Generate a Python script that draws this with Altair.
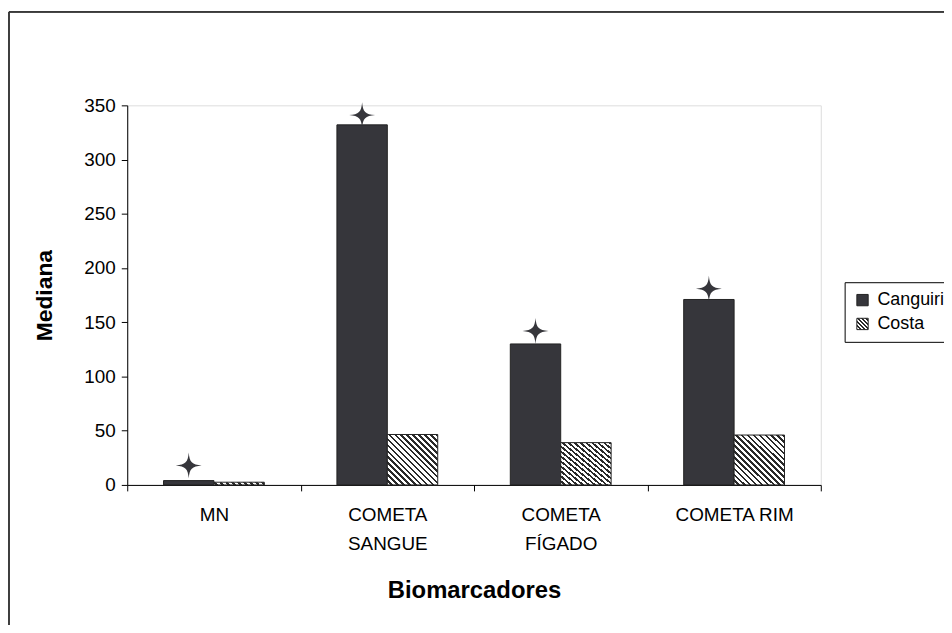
import altair as alt
import pandas as pd

categorias = ["MN", "COMETA SANGUE", "COMETA FÍGADO", "COMETA RIM"]
series = ["Canguiri", "Costa"]
canguiri = [4, 332, 130, 171]
costa = [2.5, 46.5, 39, 46]
estrela = [18, 341, 142, 181]

rows = []
for c, a, b in zip(categorias, canguiri, costa):
    rows.append({"cat": c, "serie": "Canguiri", "valor": a})
    rows.append({"cat": c, "serie": "Costa", "valor": b})
df = pd.DataFrame(rows)
df_star = pd.DataFrame({"cat": categorias, "serie": ["Canguiri"] * 4, "valor": estrela})

DARK = "#36363b"
FONT = "Liberation Sans"

# hatch simulated with a striped linear gradient
N = 17
stops = []
for i in range(N):
    s = i / N
    a = s + 0.55 / N
    e = (i + 1) / N
    stops += [f"{{offset: {s:.4f}, color: 'white'}}", f"{{offset: {a:.4f}, color: 'white'}}",
              f"{{offset: {a:.4f}, color: '#2a2a2a'}}", f"{{offset: {min(e,1):.4f}, color: '#2a2a2a'}}"]
hatch_expr = "{gradient: 'linear', x1: 0, y1: 1, x2: 1, y2: 0, stops: [" + ", ".join(stops) + "]}"

x_enc = alt.X("cat:N", sort=categorias, title="Biomarcadores",
              scale=alt.Scale(paddingInner=0, paddingOuter=0),
              axis=alt.Axis(labelAngle=0, tickBand="extent", tickSize=6, tickColor="black",
                            domainColor="black", labelFontSize=19, labelFont=FONT,
                            labelColor="black", labelLineHeight=29, labelPadding=15,
                            labelExpr="datum.label == 'COMETA RIM' ? datum.label : split(datum.label, ' ')",
                            titleFontSize=24, titleFont=FONT, titleFontWeight="bold",
                            titleColor="black", titlePadding=25))
y_enc = alt.Y("valor:Q", title="Mediana",
              scale=alt.Scale(domain=[0, 350], nice=False),
              axis=alt.Axis(values=list(range(0, 351, 50)), grid=False, tickSize=6,
                            tickColor="black", domainColor="black", labelFontSize=19,
                            labelFont=FONT, labelColor="black", labelPadding=6,
                            titleFontSize=23, titleFont=FONT, titleFontWeight="bold",
                            titleColor="black", titlePadding=28))
xoff = alt.XOffset("serie:N", scale=alt.Scale(domain=series, paddingInner=0, paddingOuter=0.72))

bars = alt.Chart(df).mark_bar(stroke="#222222", strokeWidth=1).encode(
    x=x_enc, y=y_enc, xOffset=xoff,
    color=alt.Color("serie:N", title=None,
                    scale=alt.Scale(domain=series, range=[DARK, alt.ExprRef(hatch_expr)]),
                    legend=alt.Legend(orient="none", legendX=722, legendY=178,
                                      strokeColor="black", padding=9, symbolType="square",
                                      symbolSize=130, symbolStrokeColor="#222222",
                                      symbolStrokeWidth=1, labelFontSize=18, labelFont=FONT,
                                      labelColor="black", rowPadding=6, labelOffset=6)),
)

star_path = "M0,-1 C0.06,-0.25 0.25,-0.06 1,0 C0.25,0.06 0.06,0.25 0,1 C-0.06,0.25 -0.25,0.06 -1,0 C-0.25,-0.06 -0.06,-0.25 0,-1 Z"
stars = alt.Chart(df_star).mark_point(shape=star_path, filled=True, size=680, color=DARK, opacity=1).encode(
    x=alt.X("cat:N", sort=categorias), y=alt.Y("valor:Q"), xOffset=alt.XOffset("serie:N"),
)

frame = alt.Chart(df_star).mark_rect(filled=False, stroke="#333333", strokeWidth=1).encode(
    x=alt.value(-119), x2=alt.value(840), y=alt.value(-94), y2=alt.value(560)
)

chart = alt.layer(frame, bars, stars).properties(
    width=698, height=382,
    autosize=alt.AutoSizeParams(type="none"),
    padding={"left": 120, "top": 96, "right": 124, "bottom": 139},
).configure_view(stroke="#8a7e7e", strokeWidth=1.5).configure(background="white")

chart.save("out.html", embed_options={"renderer": "svg", "actions": False})
